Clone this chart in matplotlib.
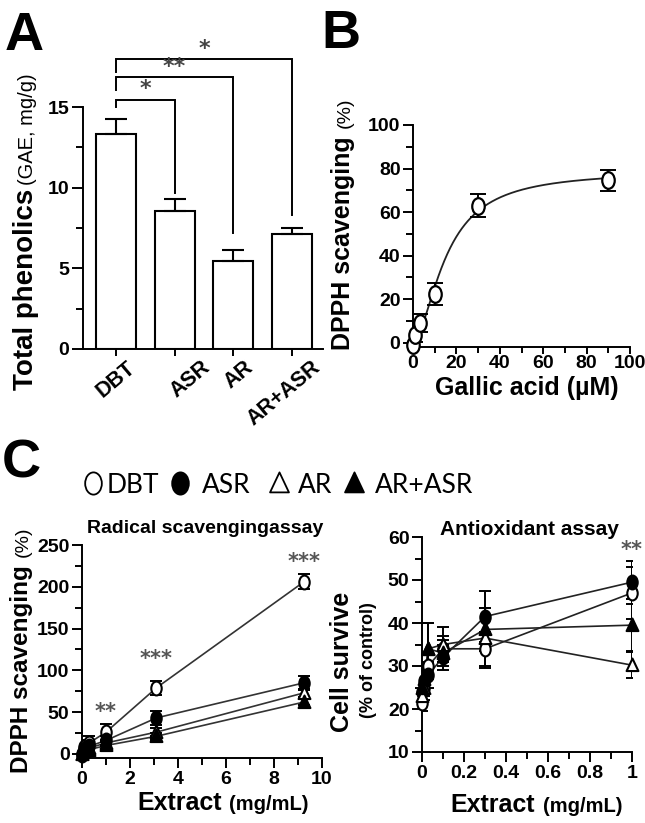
import numpy as np
import matplotlib
matplotlib.use('Agg')
import matplotlib.pyplot as plt
from matplotlib.path import Path
from matplotlib.lines import Line2D
from matplotlib.ticker import FixedLocator, MultipleLocator, FuncFormatter
from matplotlib.transforms import ScaledTranslation, blended_transform_factory

# ---------------- data ----------------
groups = ['DBT', 'ASR', 'AR', 'AR+ASR']
phenolics = [13.35, 8.55, 5.45, 7.1]
phenolics_err = [0.9, 0.75, 0.7, 0.4]
sig_pairs = [(0, 1, '*'), (0, 2, '**'), (0, 3, '*')]

gallic_conc = [0, 1, 3, 10, 30, 90]
gallic_dpph = [-1, 3.5, 9, 22.5, 63, 74.5]
gallic_err = [3, 3, 4, 5, 5.5, 5]

rad_conc = [0, 0.1, 0.3, 1, 3.1, 9.25]
rad_dbt = [-2, 8, 13, 26, 79, 206]
rad_asr = [0, 6, 9, 16, 43, 85]
rad_ar = [0, 4, 7, 13, 26, 73]
rad_arasr = [0, 3, 5, 10, 21, 62]
rad_dbt_err = [3, 8, 8, 10, 8, 9]
rad_asr_err = [3, 6, 6, 5, 8, 8]
rad_ar_err = [3, 5, 5, 4, 5, 5]
rad_arasr_err = [3, 5, 5, 4, 4, 4]
rad_sig = [(1, 50, '**'), (3.1, 113, '***'), (9.25, 230, '***')]

cell_conc = [0, 0.01, 0.03, 0.1, 0.3, 1]
cell_dbt = [21.5, 25, 30, 34, 34, 47]
cell_asr = [24, 26.5, 28, 32, 41.5, 49.5]
cell_ar = [23, 25, 34, 35, 36.5, 30.2]
cell_arasr = [25, 27, 34, 33, 38.5, 39.5]
cell_dbt_err = [2, 3, 3, 3, 4, 6]
cell_asr_err = [2, 2, 3, 3, 6, 5]
cell_ar_err = [2, 2, 6, 4, 7, 3]
cell_arasr_err = [2, 2, 6, 3, 5, 6]
cell_sig = [(1, 57, '**')]

# ---------------- setup ----------------
W, H, DPI = 645, 823, 100
plt.rcParams['font.family'] = ['Liberation Sans', 'DejaVu Sans']
plt.rcParams['font.weight'] = 'bold'
plt.rcParams['axes.linewidth'] = 1.4
TICK = 14

fig = plt.figure(figsize=(W / DPI, H / DPI), dpi=DPI)
renderer = fig.canvas.get_renderer()


def ax_px(left, top, right, bottom):
    ax = fig.add_axes([left / W, 1 - bottom / H, (right - left) / W, (bottom - top) / H])
    ax.patch.set_alpha(0)
    for s in ['top', 'right']:
        ax.spines[s].set_visible(False)
    ax.tick_params(which='major', direction='out', length=7, width=1.4, labelsize=TICK, pad=2)
    ax.tick_params(which='minor', direction='out', length=5, width=1.4)
    return ax


def fx(px):
    return px / W


def fy(py):
    return 1 - py / H


def vparts(x_px, y_px, parts, gap=4, ha='left'):
    y = y_px
    for s, size, w in parts:
        t = fig.text(fx(x_px), fy(y), s, rotation=90, rotation_mode='anchor',
                     ha=ha, va='baseline', fontsize=size, fontweight=w)
        bb = t.get_window_extent(renderer)
        y -= bb.height + gap


def hparts(x_px, y_px, parts, gap=8):
    x = x_px
    for s, size, w in parts:
        t = fig.text(fx(x), fy(y_px), s, ha='left', va='baseline', fontsize=size, fontweight=w)
        bb = t.get_window_extent(renderer)
        x += bb.width + gap


circ = Path.unit_circle()
ELL = Path(circ.vertices * np.array([0.75, 1.0]), circ.codes)
TRI = Path([(0, 1), (-0.85, -0.8), (0.85, -0.8), (0, 1)],
           [Path.MOVETO, Path.LINETO, Path.LINETO, Path.CLOSEPOLY])

# ---------------- Panel A ----------------
axA = ax_px(83.3, 107, 323, 349)
xA = np.arange(len(groups))
axA.bar(xA, phenolics, width=0.68, color='white', edgecolor='black', linewidth=1.5, zorder=2)
axA.errorbar(xA, phenolics, yerr=[np.zeros(len(groups)), phenolics_err], fmt='none',
             ecolor='black', elinewidth=1.5, capsize=8, capthick=1.5, zorder=3)
axA.set_xlim(-0.557, 3.53)
axA.set_ylim(0, 15)
axA.yaxis.set_major_locator(FixedLocator([0, 5, 10, 15]))
axA.yaxis.set_minor_locator(FixedLocator([2.5, 7.5, 12.5]))
axA.set_xticks(xA)
axA.set_xticklabels([])
axA.tick_params(axis='x', length=5)
axA.tick_params(axis='y', which='major', length=8)
tA = blended_transform_factory(axA.transData, axA.transAxes)
label_dx = [17, 33, 17, 26]
for i, g in enumerate(groups):
    tr = tA + ScaledTranslation(label_dx[i] / DPI, -16 / DPI, fig.dpi_scale_trans)
    axA.text(xA[i], 0, g, transform=tr, rotation=40, rotation_mode='anchor',
             ha='right', va='center', fontsize=15.5, fontweight='bold')

bracket_y = [15.45, 16.85, 17.95]
left_leg = [15.0, 16.06, 17.2]
right_leg = [9.65, 7.17, 8.3]
for k, (a, b, s) in enumerate(sig_pairs):
    y = bracket_y[k]
    axA.plot([xA[a], xA[a], xA[b], xA[b]], [left_leg[k], y, y, right_leg[k]],
             color='black', lw=1.4, clip_on=False, solid_joinstyle='miter')
    axA.text((xA[a] + xA[b]) / 2, y + 0.65, s, ha='center', va='center', fontsize=16,
             color='#444444', family='DejaVu Sans', fontweight='bold', clip_on=False)

vparts(33, 390, [('Total phenolics', 20, 'bold'), ('(GAE, mg/g)', 14.5, 'normal')], gap=4)
fig.text(fx(5), fy(50), 'A', fontsize=39, fontweight='bold', ha='left', va='baseline')

# ---------------- Panel B ----------------
axB = ax_px(413, 125, 630, 347)
gx = np.array(gallic_conc, float)
gy = np.array(gallic_dpph, float)
# least squares Hill fit (grid search)
tops = np.linspace(60, 90, 61)[:, None, None, None]
ecs = np.linspace(5, 40, 141)[None, :, None, None]
ns = np.linspace(0.5, 4, 71)[None, None, :, None]
pred = tops * gx ** ns / (gx ** ns + ecs ** ns)
sse = ((pred - gy) ** 2).sum(axis=-1)
i1, i2, i3 = np.unravel_index(np.argmin(sse), sse.shape)
top, ec, nh = tops.ravel()[i1], ecs.ravel()[i2], ns.ravel()[i3]
xs = np.linspace(0, max(gallic_conc), 400)
axB.plot(xs, top * xs ** nh / (xs ** nh + ec ** nh), color='#222222', lw=1.3, zorder=2)
axB.errorbar(gallic_conc, gallic_dpph, yerr=gallic_err, fmt='none', ecolor='black',
             elinewidth=1.4, capsize=6, capthick=1.4, zorder=3)
axB.plot(gallic_conc, gallic_dpph, ls='none', marker=ELL, ms=12, mfc='white', mec='black',
         mew=1.6, zorder=4, clip_on=False)
axB.set_xlim(0, 100)
axB.set_ylim(-2, 100)
axB.xaxis.set_major_locator(MultipleLocator(20))
axB.xaxis.set_minor_locator(MultipleLocator(10))
axB.yaxis.set_major_locator(MultipleLocator(20))
axB.yaxis.set_minor_locator(MultipleLocator(10))
axB.tick_params(axis='x', which='major', length=5, pad=1)
axB.tick_params(axis='x', which='minor', length=4)
vparts(350, 350, [('DPPH scavenging', 18, 'bold'), ('(%)', 14, 'normal')], gap=8)
fig.text(fx(527), fy(395), 'Gallic acid (µM)', fontsize=18, fontweight='bold', ha='center', va='baseline')
fig.text(fx(321), fy(48), 'B', fontsize=39, fontweight='bold', ha='left', va='baseline')

# ---------------- Panel C ----------------
fig.text(fx(2), fy(478), 'C', fontsize=39, fontweight='bold', ha='left', va='baseline')

series = [
    ('DBT', ELL, 'white'),
    ('ASR', ELL, 'black'),
    ('AR', TRI, 'white'),
    ('AR+ASR', TRI, 'black'),
]
leg_marker_x = [92.7, 180, 279, 354]
leg_text_x = [106.7, 201.7, 298, 375]
for (name, mk, fc), mxp, txp in zip(series, leg_marker_x, leg_text_x):
    fig.add_artist(Line2D([fx(mxp)], [fy(483)], transform=fig.transFigure, marker=mk, ms=16,
                          mfc=fc, mec='black', mew=1.3, ls='none'))
    fig.text(fx(txp), fy(493), name, fontsize=19, fontweight='normal', family=['Lato', 'DejaVu Sans'],
             ha='left', va='baseline')

# left: radical scavenging
axC1 = ax_px(82, 545, 322, 758)
rad_vals = [rad_dbt, rad_asr, rad_ar, rad_arasr]
rad_errs = [rad_dbt_err, rad_asr_err, rad_ar_err, rad_arasr_err]
for (name, mk, fc), v, e in zip(series, rad_vals, rad_errs):
    axC1.plot(rad_conc, v, color='#333333', lw=1.2, zorder=2)
    axC1.errorbar(rad_conc, v, yerr=e, fmt='none', ecolor='black', elinewidth=1.4,
                  capsize=4.5, capthick=1.4, zorder=3)
    axC1.plot(rad_conc, v, ls='none', marker=mk, ms=10, mfc=fc, mec='black', mew=1.5,
              zorder=4, clip_on=False)
for xx, yy, s in rad_sig:
    axC1.text(xx, yy, s, ha='center', va='center', fontsize=15, color='#555555',
              family='DejaVu Sans', fontweight='bold')
axC1.set_xlim(0, 10)
axC1.set_ylim(-5, 250)
axC1.xaxis.set_major_locator(MultipleLocator(2))
axC1.xaxis.set_minor_locator(MultipleLocator(1))
axC1.yaxis.set_major_locator(MultipleLocator(50))
axC1.yaxis.set_minor_locator(MultipleLocator(25))
vparts(28, 773, [('DPPH scavenging', 17.5, 'bold'), ('(%)', 14, 'normal')], gap=8)
hparts(137, 810, [('Extract', 18, 'bold'), ('(mg/mL)', 14.5, 'bold')], gap=8)
fig.text(fx(205), fy(533), 'Radical scavengingassay', fontsize=14, fontweight='bold',
         ha='center', va='baseline')

# right: antioxidant
axC2 = ax_px(422, 537, 632, 752)
cell_vals = [cell_dbt, cell_asr, cell_ar, cell_arasr]
cell_errs = [cell_dbt_err, cell_asr_err, cell_ar_err, cell_arasr_err]
for (name, mk, fc), v, e in zip(series, cell_vals, cell_errs):
    axC2.plot(cell_conc, v, color='#222222', lw=1.2, zorder=2)
    axC2.errorbar(cell_conc, v, yerr=e, fmt='none', ecolor='black', elinewidth=1.4,
                  capsize=4.5, capthick=1.4, zorder=3)
    axC2.plot(cell_conc, v, ls='none', marker=mk, ms=10, mfc=fc, mec='black', mew=1.5,
              zorder=4, clip_on=False)
for xx, yy, s in cell_sig:
    axC2.text(xx, yy, s, ha='center', va='center', fontsize=15, color='#555555',
              family='DejaVu Sans', fontweight='bold', clip_on=False)
axC2.set_xlim(0, 1)
axC2.set_ylim(10, 60)
axC2.xaxis.set_major_locator(MultipleLocator(0.2))
axC2.xaxis.set_minor_locator(MultipleLocator(0.1))
axC2.yaxis.set_major_locator(MultipleLocator(10))
axC2.yaxis.set_minor_locator(MultipleLocator(5))
axC2.xaxis.set_major_formatter(FuncFormatter(lambda v, p: '%g' % round(v, 2)))
vparts(349, 662, [('Cell survive', 18, 'bold')], ha='center')
vparts(373, 660, [('(% of control)', 13, 'bold')], ha='center')
hparts(450, 812, [('Extract', 18, 'bold'), ('(mg/mL)', 14.5, 'bold')], gap=8)
fig.text(fx(529), fy(535), 'Antioxidant assay', fontsize=15, fontweight='bold',
         ha='center', va='baseline')

for ax in [axA, axB, axC1, axC2]:
    for lab in ax.get_xticklabels() + ax.get_yticklabels():
        lab.set_fontweight('bold')

fig.savefig('out.png', dpi=DPI)
